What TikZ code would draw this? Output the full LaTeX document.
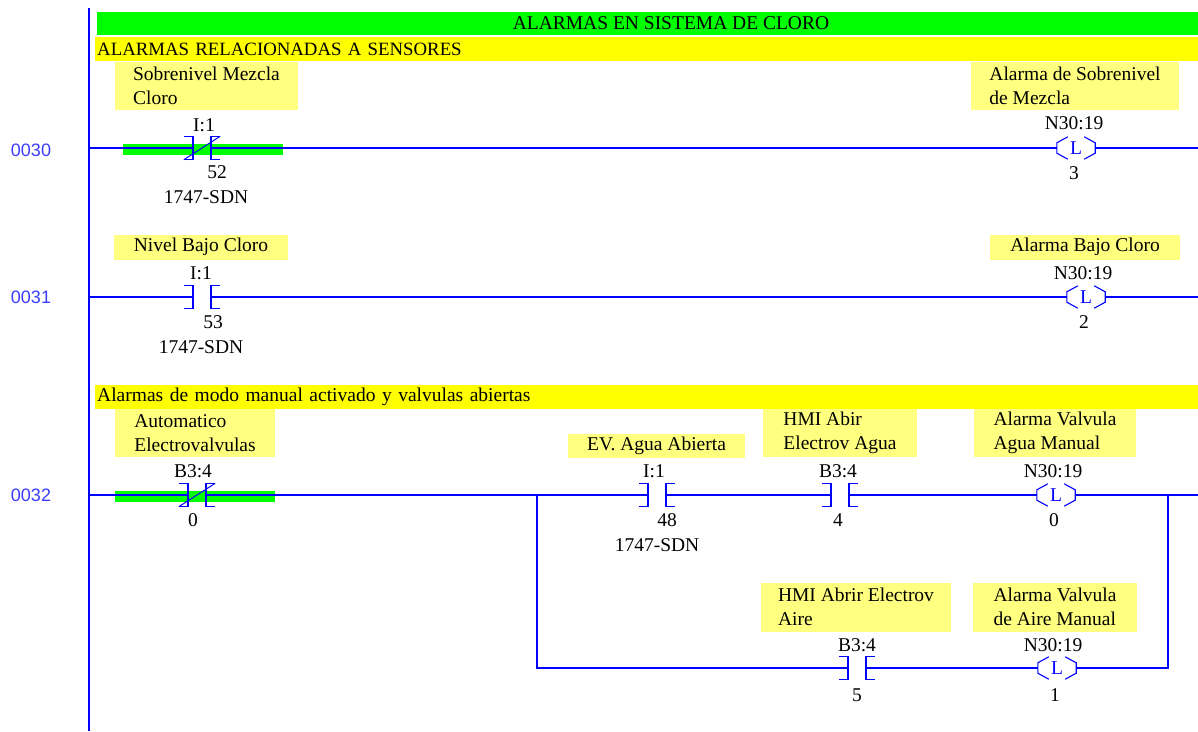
\documentclass[tikz,border=0pt]{standalone}
\usepackage{fontspec}
\setmainfont{Liberation Serif}
\newfontfamily\rungfont{Liberation Sans}

\definecolor{lblyellow}{RGB}{255,255,128}
\definecolor{baryellow}{RGB}{255,255,0}
\definecolor{ongreen}{RGB}{0,255,0}
\definecolor{wireblue}{RGB}{0,0,255}
\definecolor{numblue}{RGB}{60,60,255}

\tikzset{
  rung/.style={wireblue, line width=1.5pt},
  lbl/.style={fill=lblyellow, align=left, inner sep=0pt},
  addr/.style={inner sep=0pt},
  rungno/.style={numblue, font=\rungfont\fontsize{18}{21}\selectfont},
  contact/.style={minimum width=18pt, minimum height=23pt, inner sep=0pt},
  coil/.style={minimum width=38pt, minimum height=22pt, inner sep=0pt, text=wireblue},
  energized/.style={fill=ongreen, minimum width=160pt, minimum height=11pt, inner sep=0pt},
  commentbar/.style={fill=baryellow, anchor=north west, inner xsep=2pt, inner ysep=0pt,
    minimum height=24pt, text width=1099pt, align=left}
}

% contact and coil symbols, drawn round an empty node
\newcommand{\NOcontact}[1]{%
  \draw[rung] ([xshift=-9pt]#1.north west) -- (#1.north west) -- (#1.south west) -- ([xshift=-9pt]#1.south west);
  \draw[rung] ([xshift=9pt]#1.north east) -- (#1.north east) -- (#1.south east) -- ([xshift=9pt]#1.south east);}
\newcommand{\NCcontact}[1]{%
  \NOcontact{#1}
  \draw[rung, line width=1pt] ([xshift=-9pt]#1.south west) -- ([xshift=9pt]#1.north east);}
\newcommand{\latchcoil}[1]{%
  \draw[rung, line width=1.1pt] ([xshift=11pt]#1.north west) -- ([yshift=-6pt]#1.north west) -- ([yshift=6pt]#1.south west) -- ([xshift=11pt]#1.south west);
  \draw[rung, line width=1.1pt] ([xshift=-11pt]#1.north east) -- ([yshift=-6pt]#1.north east) -- ([yshift=6pt]#1.south east) -- ([xshift=-11pt]#1.south east);}

\begin{document}
\begin{tikzpicture}[x=1pt, y=-1pt, font=\fontsize{19.5}{24.5}\selectfont]
  \useasboundingbox (0,0) rectangle (1198,731);

  % left power rail
  \coordinate (railtop) at (89,8);
  \coordinate (railbot) at (89,731);
  \draw[rung] (railtop) -- (railbot);

  % titles
  \node[fill=ongreen, anchor=north west, minimum width=1101pt, minimum height=23pt, inner sep=0pt] (title) at (97,12) {};
  \node[addr] (titletext) at (671,23) {ALARMAS EN SISTEMA DE CLORO};
  \node[commentbar, font=\fontsize{18.8}{24}\selectfont] (cmt30) at (95,37) {ALARMAS RELACIONADAS A SENSORES};

  % ---- rung 0030
  \node[rungno] (no30) at (31,150) {0030};
  \coordinate (r30) at (89,148);
  \coordinate (e30) at (1198,148);
  \node[energized] (hl30) at (203,149.5) {};
  \node[lbl, minimum width=183pt, minimum height=48pt] (lbl30a) at (206.5,86) {Sobrenivel Mezcla\\Cloro};
  \node[addr] (ad30a) at (204,125) {I:1};
  \node[contact] (c30) at (202,148) {};
  \node[addr] (bit30a) at (217,172) {52};
  \node[addr] (mod30a) at (206,197) {1747-SDN};
  \node[lbl, minimum width=208pt, minimum height=48pt] (lbl30b) at (1075,86) {Alarma de Sobrenivel\\de Mezcla};
  \node[addr] (ad30b) at (1074,123) {N30:19};
  \node[coil] (l30) at (1076,148) {L};
  \node[addr] (bit30b) at (1074,173) {3};
  \draw[rung] (r30) -- (c30) -- (l30) -- (e30);
  \NCcontact{c30}
  \latchcoil{l30}

  % ---- rung 0031
  \node[rungno] (no31) at (31,297) {0031};
  \coordinate (r31) at (89,297);
  \coordinate (e31) at (1198,297);
  \node[lbl, minimum width=174pt, minimum height=25pt] (lbl31a) at (201,247) {Nivel Bajo Cloro};
  \node[addr] (ad31a) at (201,273) {I:1};
  \node[contact] (c31) at (202,297) {};
  \node[addr] (bit31a) at (213,322) {53};
  \node[addr] (mod31a) at (201,347) {1747-SDN};
  \node[lbl, minimum width=190pt, minimum height=25pt] (lbl31b) at (1085,247) {Alarma Bajo Cloro};
  \node[addr] (ad31b) at (1083,273) {N30:19};
  \node[coil] (l31) at (1086,297) {L};
  \node[addr] (bit31b) at (1084,322) {2};
  \draw[rung] (r31) -- (c31) -- (l31) -- (e31);
  \NOcontact{c31}
  \latchcoil{l31}

  % ---- rung 0032
  \node[commentbar] (cmt32) at (95,385) {Alarmas de modo manual activado y valvulas abiertas};
  \node[rungno] (no32) at (31,495) {0032};
  \coordinate (r32) at (89,495);
  \coordinate (e32) at (1198,495);
  \coordinate (bl) at (537,495);
  \coordinate (br) at (1168,495);
  \node[energized] (hl32) at (195,496) {};
  \node[lbl, minimum width=160pt, minimum height=48pt] (lbl32a) at (195,433) {Automatico\\Electrovalvulas};
  \node[addr] (ad32a) at (193,471) {B3:4};
  \node[contact] (c32a) at (197,495) {};
  \node[addr] (bit32a) at (193,520) {0};
  \node[lbl, minimum width=177pt, minimum height=24pt] (lbl32b) at (656.5,445.5) {EV. Agua Abierta};
  \node[addr] (ad32b) at (654,471) {I:1};
  \node[contact] (c32b) at (657,495) {};
  \node[addr] (bit32b) at (667,520) {48};
  \node[addr] (mod32b) at (657,545) {1747-SDN};
  \node[lbl, minimum width=154pt, minimum height=48pt] (lbl32c) at (840,433) {HMI Abir\\Electrov Agua};
  \node[addr] (ad32c) at (838,471) {B3:4};
  \node[contact] (c32c) at (840,495) {};
  \node[addr] (bit32c) at (838,520) {4};
  \node[lbl, minimum width=162pt, minimum height=48pt] (lbl32d) at (1055,433) {Alarma Valvula\\Agua Manual};
  \node[addr] (ad32d) at (1053,471) {N30:19};
  \node[coil] (l32a) at (1056,495) {L};
  \node[addr] (bit32d) at (1054,520) {0};
  % branch
  \node[lbl, minimum width=190pt, minimum height=49pt] (lbl32e) at (856,607) {HMI Abrir Electrov\\Aire};
  \node[addr] (ad32e) at (857,645) {B3:4};
  \node[contact] (c32d) at (857,668) {};
  \node[addr] (bit32e) at (857,695) {5};
  \node[lbl, minimum width=164pt, minimum height=49pt] (lbl32f) at (1055,607) {Alarma Valvula\\de Aire Manual};
  \node[addr] (ad32f) at (1053,645) {N30:19};
  \node[coil] (l32b) at (1057,668) {L};
  \node[addr] (bit32f) at (1055,695) {1};
  \draw[rung] (r32) -- (c32a) -- (bl) -- (c32b) -- (c32c) -- (l32a) -- (e32);
  \draw[rung] (bl) |- (c32d);
  \draw[rung] (c32d) -- (l32b);
  \draw[rung] (l32b) -| (br);
  \NCcontact{c32a}
  \NOcontact{c32b}
  \NOcontact{c32c}
  \NOcontact{c32d}
  \latchcoil{l32a}
  \latchcoil{l32b}
\end{tikzpicture}
\end{document}
